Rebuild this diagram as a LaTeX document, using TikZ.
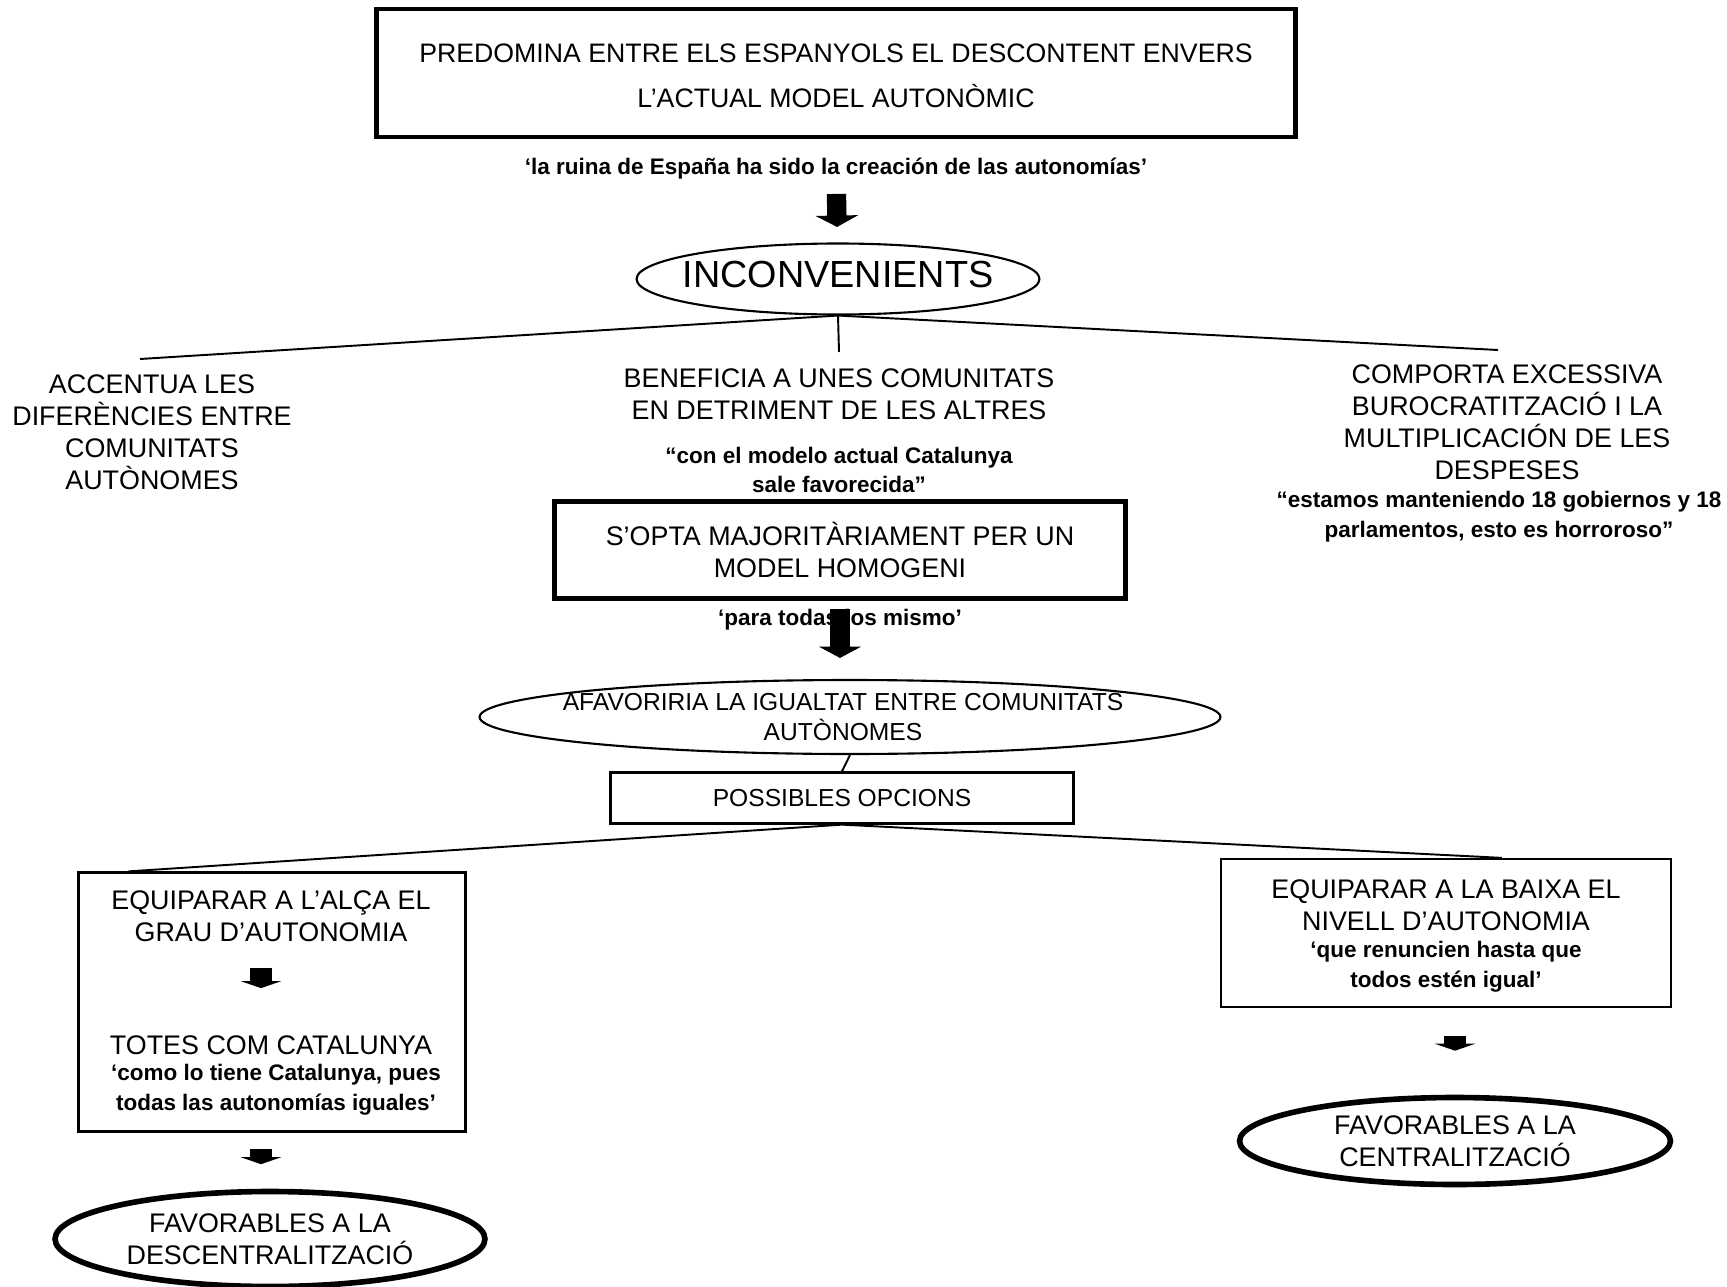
\documentclass[tikz,border=0pt]{standalone}
\usepackage{fontspec}
\setmainfont{Liberation Sans}
\usetikzlibrary{arrows.meta,shapes.geometric}

\begin{document}
\begin{tikzpicture}
  [x=0.02cm,y=-0.02cm,
   every node/.style={align=center,inner sep=0pt},
   caps/.style={font=\fontsize{15.3}{18.2}\selectfont},
   minor/.style={font=\fontsize{14}{17}\selectfont},
   quote/.style={font=\bfseries\fontsize{12.8}{17}\selectfont},
   thickbox/.style={draw,line width=2.6pt},
   thinbox/.style={draw,line width=1.3pt},
   oval/.style={ellipse,draw,line width=1.2pt},
   boldoval/.style={ellipse,draw,line width=3.2pt},
   link/.style={line width=1.1pt},
   fatarrow/.style={line width=11pt,-{Triangle[width=24pt,length=6.5pt]}},
   smallarrow/.style={line width=12pt,-{Triangle[width=23pt,length=4pt]}}]
  \useasboundingbox (0,0) rectangle (1727,1287);

  % top of the diagram
  \node[thickbox,minimum width=18.38cm,minimum height=2.56cm] (model) at (836,73) {};
  \node[font=\fontsize{15.2}{25.6}\selectfont] (modeltxt) at (836,76)
    {PREDOMINA ENTRE ELS ESPANYOLS EL DESCONTENT ENVERS\\L'ACTUAL MODEL AUTONÒMIC};
  \node[quote] (ruina) at (836,169) {‘la ruina de España ha sido la creación de las autonomías’};
  \node[oval,minimum width=8.06cm,minimum height=1.42cm,
        label={[font=\fontsize{21.5}{25}\selectfont,yshift=0.1cm]center:INCONVENIENTS}] (inconv) at (838,279) {};
  \draw[fatarrow,shorten <=0.28cm,shorten >=0.31cm] (ruina) -- (inconv);

  % three drawbacks
  \coordinate (accentend) at (140,359);
  \coordinate (benefend) at (839,352);
  \coordinate (compend) at (1498,350);
  \draw[link] (inconv.south) -- (accentend);
  \draw[link] (inconv.south) -- (benefend);
  \draw[link] (inconv.south) -- (compend);

  \node[caps] (accent) at (152,432) {ACCENTUA LES\\DIFERÈNCIES ENTRE\\COMUNITATS\\AUTÒNOMES};
  \node[caps] (benef) at (839,394) {BENEFICIA A UNES COMUNITATS\\EN DETRIMENT DE LES ALTRES};
  \node[quote] (favor) at (839,470) {“con el modelo actual Catalunya\\sale favorecida”};
  \node[caps] (comporta) at (1507,422) {COMPORTA EXCESSIVA\\BUROCRATITZACIÓ I LA\\MULTIPLICACIÓN DE LES\\DESPESES};
  \node[quote] (estamos) at (1499,517) {“estamos manteniendo 18 gobiernos y 18\\parlamentos, esto es horroroso”};

  % homogeneous model
  \node[thickbox,minimum width=11.42cm,minimum height=1.94cm,caps] (homog) at (840,550)
    {S'OPTA MAJORITÀRIAMENT PER UN\\MODEL HOMOGENI};
  \node[quote] (para) at (840,620) {‘para todas los mismo’};
  \node[oval,minimum width=14.82cm,minimum height=1.48cm,
        label={[minor,align=center,xshift=-0.14cm]center:AFAVORIRIA LA IGUALTAT ENTRE COMUNITATS\\AUTÒNOMES}] (afav) at (850,717) {};
  \draw[fatarrow,shorten >=0.42cm] (para.north) -- (para.north |- afav.north);
  \node[thinbox,minimum width=9.26cm,minimum height=1.02cm,minor] (opc) at (842,798) {POSSIBLES OPCIONS};
  \draw[link] (afav.south) -- (opc.north);

  % left option
  \node[thinbox,minimum width=7.74cm,minimum height=5.18cm] (alca) at (272,1002) {};
  \node[caps] (alcatxt) at (271,916) {EQUIPARAR A L'ALÇA EL\\GRAU D'AUTONOMIA};
  \node[caps] (totes) at (271,1045) {TOTES COM CATALUNYA};
  \node[quote] (como) at (276,1090) {‘como lo tiene Catalunya, pues\\todas las autonomías iguales’};
  \draw[smallarrow,shorten <=0.52cm,shorten >=0.94cm] ([xshift=-0.2cm]alcatxt.south) -- ([xshift=-0.2cm]totes.north);
  \node[boldoval,minimum width=8.6cm,minimum height=1.9cm,
        label={[caps,align=center]center:FAVORABLES A LA\\DESCENTRALITZACIÓ}] (desc) at (270,1239) {};
  \draw[smallarrow,shorten <=0.32cm,shorten >=0.49cm] ([xshift=-0.18cm]alca.south -| desc.north) -- ([xshift=-0.18cm]desc.north);

  % right option
  \node[thinbox,minimum width=9cm,minimum height=2.96cm] (baixa) at (1446,933) {};
  \node[caps] (baixatxt) at (1446,905) {EQUIPARAR A LA BAIXA EL\\NIVELL D'AUTONOMIA};
  \node[quote] (renuncien) at (1446,967) {‘que renuncien hasta que\\todos estén igual’};
  \node[boldoval,minimum width=8.62cm,minimum height=1.74cm,
        label={[caps,align=center]center:FAVORABLES A LA\\CENTRALITZACIÓ}] (centr) at (1455,1141) {};
  \draw[smallarrow,shorten <=0.56cm,shorten >=0.88cm] (baixa.south -| centr.north) -- (centr.north);

  \draw[link] (opc.south) -- ([xshift=1.02cm]alca.north west);
  \draw[link] (opc.south) -- ([xshift=5.64cm]baixa.north west);
\end{tikzpicture}
\end{document}
